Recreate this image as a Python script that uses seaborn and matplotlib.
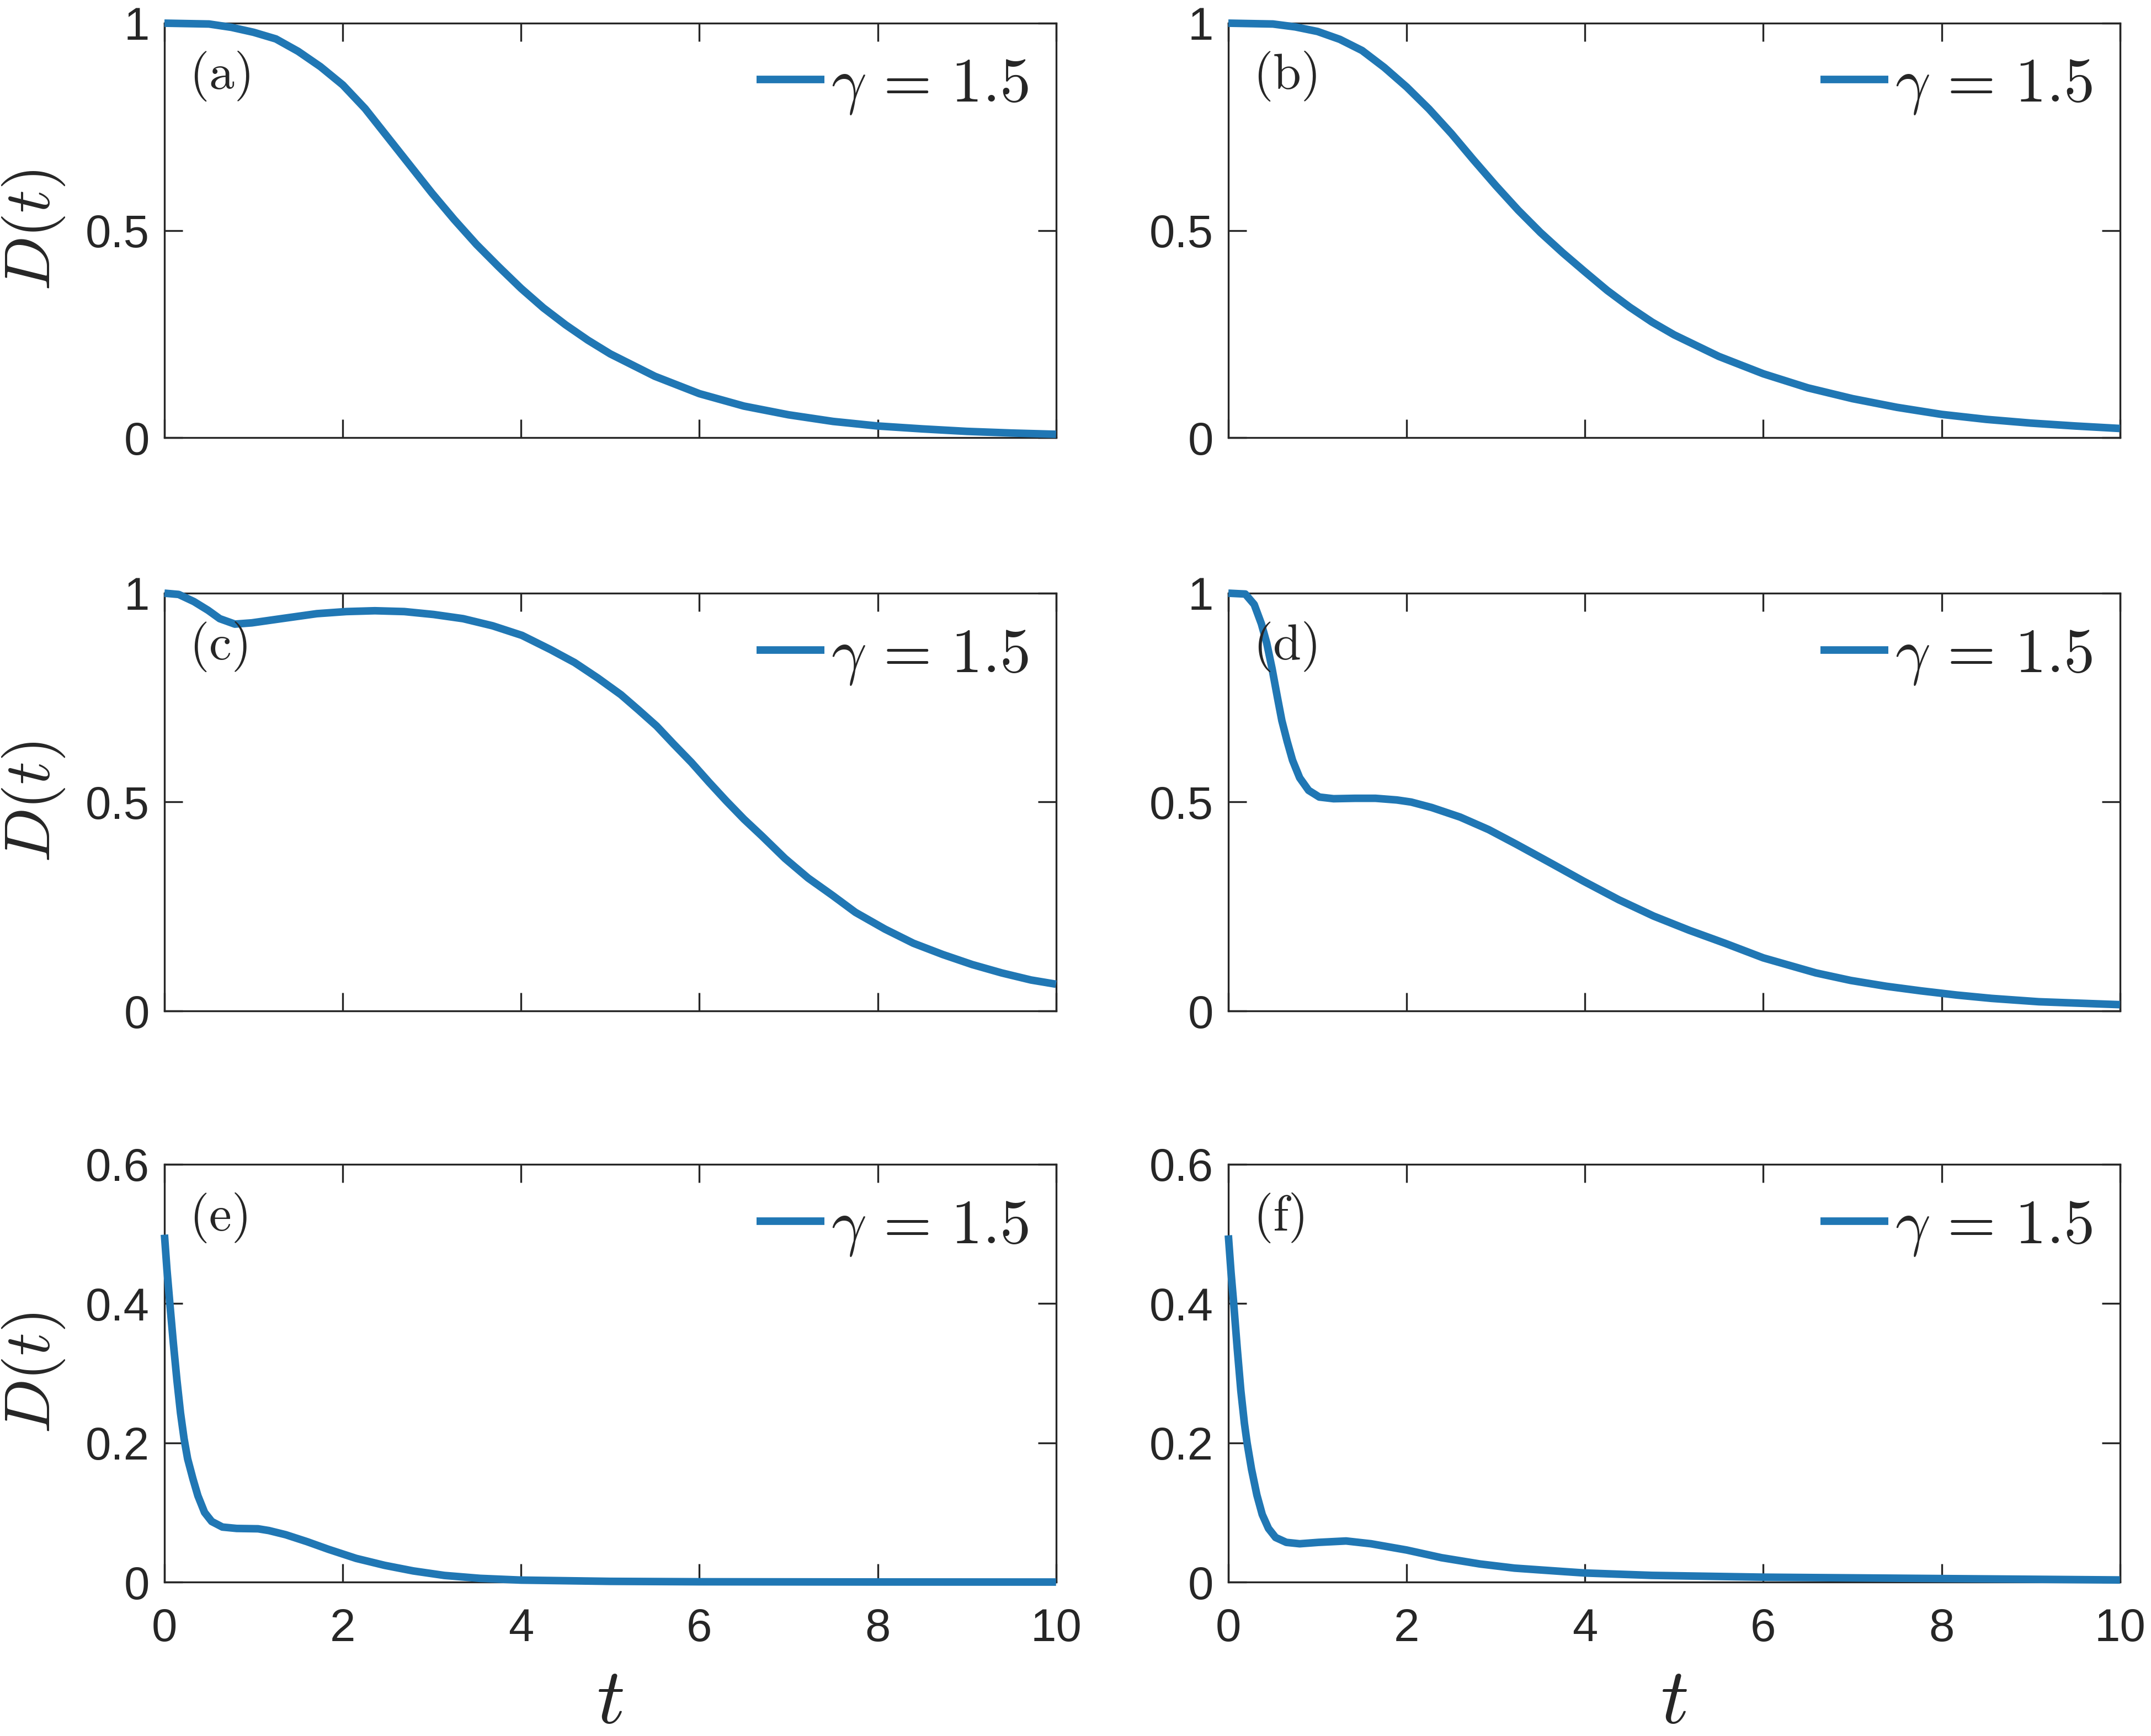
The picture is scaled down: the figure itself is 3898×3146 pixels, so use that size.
import numpy as np
import pandas as pd
import matplotlib
matplotlib.use("Agg")
import matplotlib.pyplot as plt
import seaborn as sns

# values, panel by panel
t_a = [0, 0.5, 0.75, 1.0, 1.25, 1.5, 1.75, 2.0, 2.25, 2.5, 2.75, 3.0, 3.25, 3.5, 3.75,
       4.0, 4.25, 4.5, 4.75, 5.0, 5.5, 6.0, 6.5, 7.0, 7.5, 8.0, 8.5, 9.0, 9.5, 10.0]
D_a = [1.0, 0.998, 0.99, 0.978, 0.962, 0.932, 0.895, 0.851, 0.794, 0.726, 0.658, 0.590,
       0.526, 0.466, 0.412, 0.360, 0.313, 0.272, 0.235, 0.202, 0.148, 0.106, 0.076,
       0.055, 0.039, 0.028, 0.021, 0.015, 0.011, 0.008]

t_b = [0, 0.5, 0.75, 1.0, 1.25, 1.5, 1.75, 2.0, 2.25, 2.5, 2.75, 3.0, 3.25, 3.5, 3.75,
       4.0, 4.25, 4.5, 4.75, 5.0, 5.5, 6.0, 6.5, 7.0, 7.5, 8.0, 8.5, 9.0, 9.5, 10.0]
D_b = [1.0, 0.998, 0.991, 0.980, 0.961, 0.934, 0.893, 0.846, 0.793, 0.734, 0.670, 0.608,
       0.549, 0.495, 0.446, 0.400, 0.355, 0.315, 0.279, 0.248, 0.196, 0.154, 0.120,
       0.094, 0.073, 0.056, 0.044, 0.035, 0.028, 0.022]

t_c = [0, 0.16, 0.33, 0.49, 0.62, 0.79, 0.98, 1.31, 1.71, 2.04, 2.36, 2.69, 3.02, 3.35,
       3.68, 4.01, 4.33, 4.60, 4.86, 5.12, 5.32, 5.52, 5.71, 5.91, 6.11, 6.30, 6.50,
       6.70, 6.96, 7.22, 7.49, 7.75, 8.08, 8.40, 8.73, 9.06, 9.39, 9.72, 10.0]
D_c = [1.0, 0.997, 0.980, 0.959, 0.939, 0.926, 0.929, 0.939, 0.951, 0.956, 0.958, 0.956,
       0.949, 0.939, 0.922, 0.899, 0.865, 0.834, 0.797, 0.757, 0.720, 0.682, 0.639,
       0.595, 0.547, 0.503, 0.459, 0.419, 0.365, 0.318, 0.277, 0.236, 0.196, 0.162,
       0.135, 0.111, 0.091, 0.074, 0.064]

t_d = [0, 0.19, 0.29, 0.37, 0.43, 0.49, 0.55, 0.60, 0.66, 0.72, 0.80, 0.90, 1.02, 1.18,
       1.42, 1.65, 1.89, 2.05, 2.28, 2.60, 2.92, 3.23, 3.59, 3.98, 4.38, 4.77, 5.17,
       5.57, 6.0, 6.59, 6.98, 7.38, 7.77, 8.17, 8.56, 9.09, 10.0]
D_d = [1.0, 0.998, 0.973, 0.927, 0.881, 0.820, 0.751, 0.695, 0.645, 0.600, 0.558, 0.528,
       0.512, 0.508, 0.509, 0.509, 0.505, 0.500, 0.487, 0.464, 0.434, 0.399, 0.357,
       0.311, 0.266, 0.227, 0.193, 0.162, 0.127, 0.091, 0.073, 0.059, 0.048, 0.038,
       0.030, 0.022, 0.015]

t_e = [0, 0.028, 0.06, 0.10, 0.14, 0.18, 0.22, 0.26, 0.32, 0.375, 0.45, 0.53, 0.65, 0.81,
       1.05, 1.17, 1.36, 1.60, 1.84, 2.15, 2.47, 2.79, 3.14, 3.54, 4.0, 5.0, 6.0, 8.0, 10.0]
D_e = [0.499, 0.449, 0.401, 0.343, 0.290, 0.243, 0.206, 0.177, 0.148, 0.124, 0.100, 0.087,
       0.079, 0.077, 0.0765, 0.074, 0.068, 0.058, 0.047, 0.034, 0.024, 0.016, 0.0095,
       0.0053, 0.0028, 0.001, 0.0004, 0.0001, 0.0]

t_f = [0, 0.03, 0.06, 0.10, 0.14, 0.18, 0.21, 0.26, 0.32, 0.38, 0.45, 0.53, 0.65, 0.80,
       1.01, 1.32, 1.60, 2.0, 2.39, 2.82, 3.21, 3.77, 4.0, 4.75, 6.0, 8.0, 10.0]
D_f = [0.498, 0.445, 0.400, 0.335, 0.275, 0.228, 0.200, 0.162, 0.125, 0.097, 0.077, 0.064,
       0.057, 0.055, 0.057, 0.059, 0.055, 0.046, 0.035, 0.026, 0.020, 0.015, 0.013,
       0.0096, 0.007, 0.005, 0.003]

panels = ["a", "b", "c", "d", "e", "f"]
times = [t_a, t_b, t_c, t_d, t_e, t_f]
values = [D_a, D_b, D_c, D_d, D_e, D_f]

x_ticks = [0, 2, 4, 6, 8, 10]
y_ticks_top = [0, 0.5, 1]
y_labels_top = ["0", "0.5", "1"]
y_ticks_bottom = [0, 0.2, 0.4, 0.6]
y_labels_bottom = ["0", "0.2", "0.4", "0.6"]
legend_label = r"$\gamma\,=\,1.5$"

sns.set_style("ticks")
plt.rcParams["font.family"] = ["Liberation Sans", "DejaVu Sans"]
plt.rcParams["mathtext.fontset"] = "cm"
ink = "#262626"
blue = "#2077b4"

fig = plt.figure(figsize=(3898 / 300, 3146 / 300), dpi=300)

col_left = [0.07645, 0.57106]
col_width = 0.4145
row_bottom = [0.74793, 0.41767, 0.08868]
row_height = [0.23872, 0.24063, 0.24063]

for i, (name, t, D) in enumerate(zip(panels, times, values)):
    r, c = divmod(i, 2)
    ax = fig.add_axes([col_left[c], row_bottom[r], col_width, row_height[r]])
    df = pd.DataFrame({"t": t, "D": D})
    sns.lineplot(data=df, x="t", y="D", ax=ax, color=blue, linewidth=3.3,
                 label=legend_label, zorder=3)
    line = ax.lines[-1]
    line.set_clip_on(False)
    line.set_solid_joinstyle("round")
    line.set_solid_capstyle("butt")

    ax.set_xlim(0, 10)
    ax.set_xticks(x_ticks)
    if r < 2:
        ax.set_ylim(0, 1)
        ax.set_yticks(y_ticks_top)
        ax.set_yticklabels(y_labels_top)
    else:
        ax.set_ylim(0, 0.6)
        ax.set_yticks(y_ticks_bottom)
        ax.set_yticklabels(y_labels_bottom)

    for s in ax.spines.values():
        s.set_visible(True)
        s.set_linewidth(0.8)
        s.set_color(ink)
    ax.tick_params(axis="both", direction="in", top=True, right=True, length=8,
                   width=0.8, color=ink, labelcolor=ink, labelsize=20)
    ax.tick_params(axis="x", pad=11, labelbottom=(r == 2))
    ax.tick_params(axis="y", pad=6.5)

    if c == 0:
        ax.set_ylabel(r"$D(t)$", fontsize=28, color=ink)
        ax.yaxis.set_label_coords(-0.1095, 0.5)
    else:
        ax.set_ylabel("")
    if r == 2:
        ax.set_xlabel(r"$t$", fontsize=34, color=ink)
        ax.xaxis.set_label_coords(0.5, -0.20)
    else:
        ax.set_xlabel("")

    ax.text(0.028, 0.872, r"$\mathrm{(" + name + ")}$", transform=ax.transAxes,
            fontsize=22, ha="left", va="center", color=ink)
    leg = ax.legend(loc="center right", bbox_to_anchor=(0.969, 0.848), frameon=False,
                    fontsize=27, handlelength=1.1, handletextpad=0.1, borderpad=0,
                    borderaxespad=0)
    for txt in leg.get_texts():
        txt.set_color(ink)
    for h in leg.get_lines():
        h.set_solid_capstyle("butt")

fig.savefig("out.png", dpi=300, facecolor="white")
